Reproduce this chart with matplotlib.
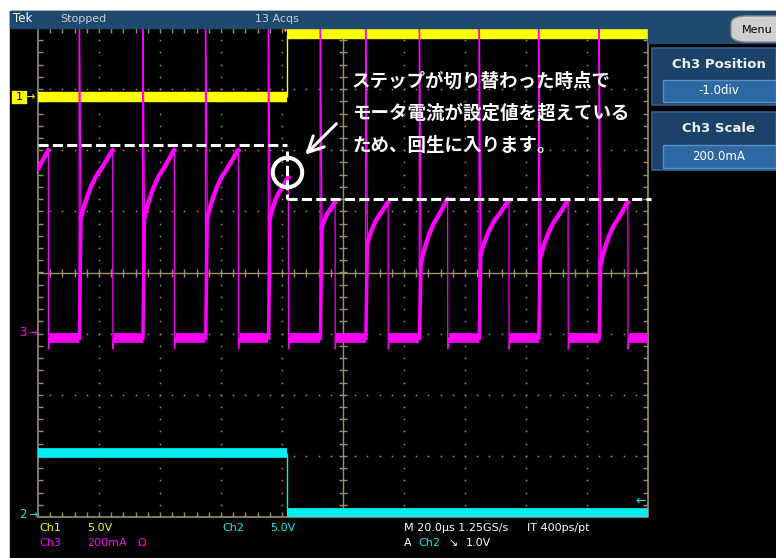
import numpy as np
import matplotlib.pyplot as plt
from matplotlib.patches import Rectangle, FancyBboxPatch

plt.rcParams['font.family'] = ['DejaVu Sans']

W, H = 776, 558

# ------------------------------
# 設定値
# ------------------------------
us_per_div = 20.0
ch1_scale, ch2_scale, ch3_scale = 5.0, 5.0, 200.0   # V/div, V/div, mA/div
ch1_pos, ch2_pos, ch3_pos = 2.87, -3.97, -1.0       # GNDの位置 [div]

# ------------------------------
# 波形データ
# ------------------------------
t_step = 81.5                                   # ステップ切替 [us]
ch1_t = [0.0, t_step, t_step, 200.0]
ch1_v = [0.0, 0.0, 5.2, 5.2]
ch2_t = [0.0, t_step, t_step, 200.0]
ch2_v = [5.1, 5.1, 0.2, 0.2]

# Ch3 モータ電流 [mA]
ch3_head_t = [0.0, 3.4]
ch3_head_ma = [540, 600]
ch3_spike_t = [13.5, 34.3, 54.9, 75.5, 92.5, 107.4, 125.0, 144.6, 164.1, 183.9]
ch3_top_t = [24.5, 44.7, 65.7, 82.1, 97.4, 114.8, 134.3, 154.4, 173.8, 193.4]
ch3_start_ma = [380, 380, 380, 380, 348, 295, 233, 262, 249, 230]
ch3_top_ma = [600, 600, 600, 512, 430, 430, 440, 436, 436, 430]
ch3_low_ma = -15
ch3_dip_ma = -50
# 電流立ち上がりの形（時間比・電流比）
ramp_t = [0, .08, .19, .30, .47, .63, .80, .97, 1.0]
ramp_i = [0, .14, .30, .44, .61, .72, .85, .99, 1.0]

# 設定値（破線）[mA]
limit_before_ma = 617
limit_after_ma = 440

ylw, cyn, mag = '#ffff00', '#00f0f0', '#ff00ff'
gc = '#9a9070'


def fx(x):
    return x / W


def fy(y):
    return 1 - y / H


def d1(v):
    return ch1_pos + np.asarray(v, float) / ch1_scale


def d2(v):
    return ch2_pos + np.asarray(v, float) / ch2_scale


def d3(i):
    return ch3_pos + np.asarray(i, float) / ch3_scale


fig = plt.figure(figsize=(W / 100, H / 100), dpi=100)
fig.patch.set_facecolor('white')
fig.add_artist(Rectangle((fx(10), 0), 1 - fx(10), fy(11), transform=fig.transFigure,
                         color='black', zorder=-5))

ax = fig.add_axes([fx(38), fy(517), fx(648) - fx(38), fy(28) - fy(517)])
ax.set_facecolor('black')
ax.set_xlim(0, 10 * us_per_div)
ax.set_ylim(-4, 4)
ax.set_xticks([])
ax.set_yticks([])
for s in ax.spines.values():
    s.set_visible(False)

# ------------------------------
# 目盛り
# ------------------------------
px_x = 610 / 200.0   # px / us
px_y = 489 / 8.0     # px / div
ax.plot([0, 200, 200, 0, 0], [-4, -4, 4, 4, -4], color=gc, lw=1.2, clip_on=False)
ax.axhline(0, color=gc, lw=1)
ax.axvline(100, color=gc, lw=1)
xt = np.arange(4, 200, 4)
yt = np.arange(-3.8, 4, 0.2)
ax.vlines(xt, 4 - 5 / px_y, 4, color=gc, lw=1)
ax.vlines(xt, -4, -4 + 5 / px_y, color=gc, lw=1)
ax.vlines(xt, -4 / px_y, 4 / px_y, color=gc, lw=1)
ax.hlines(yt, 0, 5 / px_x, color=gc, lw=1)
ax.hlines(yt, 200 - 5 / px_x, 200, color=gc, lw=1)
ax.hlines(yt, 100 - 4 / px_x, 100 + 4 / px_x, color=gc, lw=1)
for xd in np.arange(20, 200, 20):
    if xd != 100:
        ax.plot(np.full(len(yt), xd), yt, 's', color=gc, ms=1.1, mew=0)
for yd in range(-3, 4):
    if yd != 0:
        ax.plot(xt, np.full(len(xt), yd), 's', color=gc, ms=1.1, mew=0)


# ------------------------------
# 波形
# ------------------------------
def step_trace(t, y, color, thick):
    for i in range(len(t) - 1):
        flat = y[i] == y[i + 1]
        ax.plot(t[i:i + 2], y[i:i + 2], color=color, lw=thick if flat else 1.0,
                solid_capstyle='butt', zorder=3)


step_trace(ch1_t, d1(ch1_v), ylw, 7.5)
step_trace(ch2_t, d2(ch2_v), cyn, 7.0)

thin_t = list(ch3_head_t) + [ch3_head_t[-1] + 0.05, ch3_head_t[-1] + 0.4]
thin_i = list(ch3_head_ma) + [ch3_dip_ma, ch3_low_ma]
ax.plot(ch3_head_t, d3(ch3_head_ma), color=mag, lw=3.2, zorder=4)
low_start = ch3_head_t[-1] + 0.4
for k, ts in enumerate(ch3_spike_t):
    ax.plot([low_start, ts], d3([ch3_low_ma, ch3_low_ma]), color=mag, lw=7,
            solid_capstyle='butt', zorder=4)
    t0, t1 = ts + 0.6, ch3_top_t[k]
    rt = t0 + np.array(ramp_t) * (t1 - t0)
    ri = ch3_start_ma[k] + np.array(ramp_i) * (ch3_top_ma[k] - ch3_start_ma[k])
    ax.plot([ts + 0.1, t0], d3([ch3_low_ma, ch3_start_ma[k]]), color=mag, lw=2.5, zorder=4)
    ax.plot(rt, d3(ri), color=mag, lw=3.2, zorder=4)
    thin_t += [ts, ts, t0] + list(rt) + [t1 + 0.05, t1 + 0.4]
    thin_i += [ch3_low_ma, 1200, ch3_start_ma[k]] + list(ri) + [ch3_dip_ma, ch3_low_ma]
    low_start = t1 + 0.4
ax.plot([low_start, 200], d3([ch3_low_ma, ch3_low_ma]), color=mag, lw=7,
        solid_capstyle='butt', zorder=4)
ax.plot(thin_t, d3(thin_i), color=mag, lw=0.9, zorder=4)

# トリガ位置
ax.plot(t_step - 0.6, 4, marker='v', color='#ff8c00', ms=4, clip_on=False, zorder=6)

# ------------------------------
# 注記（破線・丸・矢印）
# ------------------------------
dash = dict(color='white', lw=2.2, dashes=(3.3, 1.4), clip_on=False, zorder=8)
ax.plot([0, t_step], d3([limit_before_ma] * 2), **dash)
ax.plot([t_step, t_step], [d3(limit_before_ma) - 0.1, d3(limit_after_ma)], **dash)
ax.plot([t_step, 201], d3([limit_after_ma] * 2), **dash)
ax.plot(t_step, 1.65, 'o', ms=21.2, mfc='none', mec='white', mew=2.9, zorder=8)
ax.annotate('', xy=(87.0, 1.894), xytext=(98.5, 2.467),
            arrowprops=dict(arrowstyle='->', color='white', lw=2.2, mutation_scale=28),
            zorder=8)

jp = ['Noto Sans CJK JP', 'DejaVu Sans']
notes = ['ステップが切り替わった時点で', 'モータ電流が設定値を超えている', 'ため、回生に入ります。']
for i, s in enumerate(notes):
    fig.text(fx(352), fy(81 + 32 * i), s, color='white', fontsize=13.3, family=jp,
             fontweight='bold', ha='left', va='center', zorder=10)

# ------------------------------
# 画面の枠・表示
# ------------------------------
hb = '#1f496e'
fig.add_artist(Rectangle((fx(10), fy(28)), 1 - fx(10), fy(11) - fy(28),
                         transform=fig.transFigure, color=hb, zorder=1))
fig.add_artist(Rectangle((fx(648), fy(43)), 1 - fx(648), fy(28) - fy(43),
                         transform=fig.transFigure, color=hb, zorder=1))
fig.add_artist(FancyBboxPatch((fx(731), fy(42)), fx(60), fy(16) - fy(42),
                              boxstyle='round,pad=0,rounding_size=0.02',
                              transform=fig.transFigure, fc='#cfcfcf', ec='#8a8a8a',
                              lw=1, zorder=2, mutation_aspect=0.7))
fig.text(fx(757), fy(30), 'Menu', color='black', fontsize=8, ha='center', va='center', zorder=3)
fig.text(fx(13), fy(19), 'Tek', color='white', fontsize=8.5, va='center')
fig.text(fx(60), fy(19), 'Stopped', color='#c8d0d8', fontsize=8, va='center')
fig.text(fx(255), fy(19), '13 Acqs', color='#c8d0d8', fontsize=8, va='center')

panels = [(48, 105, 80, 102, 'Ch3 Position', '-1.0div'),
          (112, 170, 145, 168, 'Ch3 Scale', '200.0mA')]
for y0, y1, f0, f1, title, val in panels:
    fig.add_artist(Rectangle((fx(651.5), fy(y1)), 1 - fx(651.5), fy(y0) - fy(y1),
                             transform=fig.transFigure, fc='#1b4268', ec='#2f5f8c',
                             lw=1.2, zorder=1))
    fig.add_artist(Rectangle((fx(663), fy(f1)), 1 - fx(663), fy(f0) - fy(f1),
                             transform=fig.transFigure, fc='#2c68a4', ec='#5b8fc4',
                             lw=1, zorder=2))
    fig.text(fx(719), fy(y0 + 17), title, color='#f0f0f0', fontsize=9.5,
             fontweight='bold', ha='center', va='center', zorder=3)
    fig.text(fx(719), fy((f0 + f1) / 2), val, color='white', fontsize=8.5,
             ha='center', va='center', zorder=3)

# チャンネルマーカ
fig.add_artist(Rectangle((fx(12), fy(103)), fx(14), fy(91) - fy(103),
                         transform=fig.transFigure, color=ylw, zorder=2))
fig.text(fx(19), fy(97), '1', color='black', fontsize=8, ha='center', va='center', zorder=3)
fig.text(fx(25), fy(97), '→', color=ylw, fontsize=8, ha='left', va='center', zorder=3)
fig.text(fx(23), fy(333), '3', color=mag, fontsize=8.5, ha='center', va='center')
fig.text(fx(28), fy(333), '→', color=mag, fontsize=8, ha='left', va='center')
fig.text(fx(23), fy(515), '2', color=cyn, fontsize=8.5, ha='center', va='center')
fig.text(fx(28), fy(515), '→', color=cyn, fontsize=8, ha='left', va='center')
fig.text(fx(646), fy(501), '←', color=cyn, fontsize=9, ha='right', va='center')

# 下部ステータス
status = [(39, 528, 'Ch1', ylw), (87, 528, '5.0V', ylw), (222, 528, 'Ch2', cyn),
          (270, 528, '5.0V', cyn), (39, 543, 'Ch3', mag), (87, 543, '200mA', mag),
          (138, 543, 'Ω', mag), (404, 528, 'M 20.0µs 1.25GS/s', 'white'),
          (527, 528, 'IT 400ps/pt', 'white'), (404, 543, 'A', 'white'),
          (418, 543, 'Ch2', cyn), (448, 543, '↘', 'white'), (466, 543, '1.0V', 'white')]
for x, y, s, c in status:
    fig.text(fx(x), fy(y), s, color=c, fontsize=8, ha='left', va='center')

fig.savefig('out.png', dpi=100, facecolor=fig.get_facecolor())
